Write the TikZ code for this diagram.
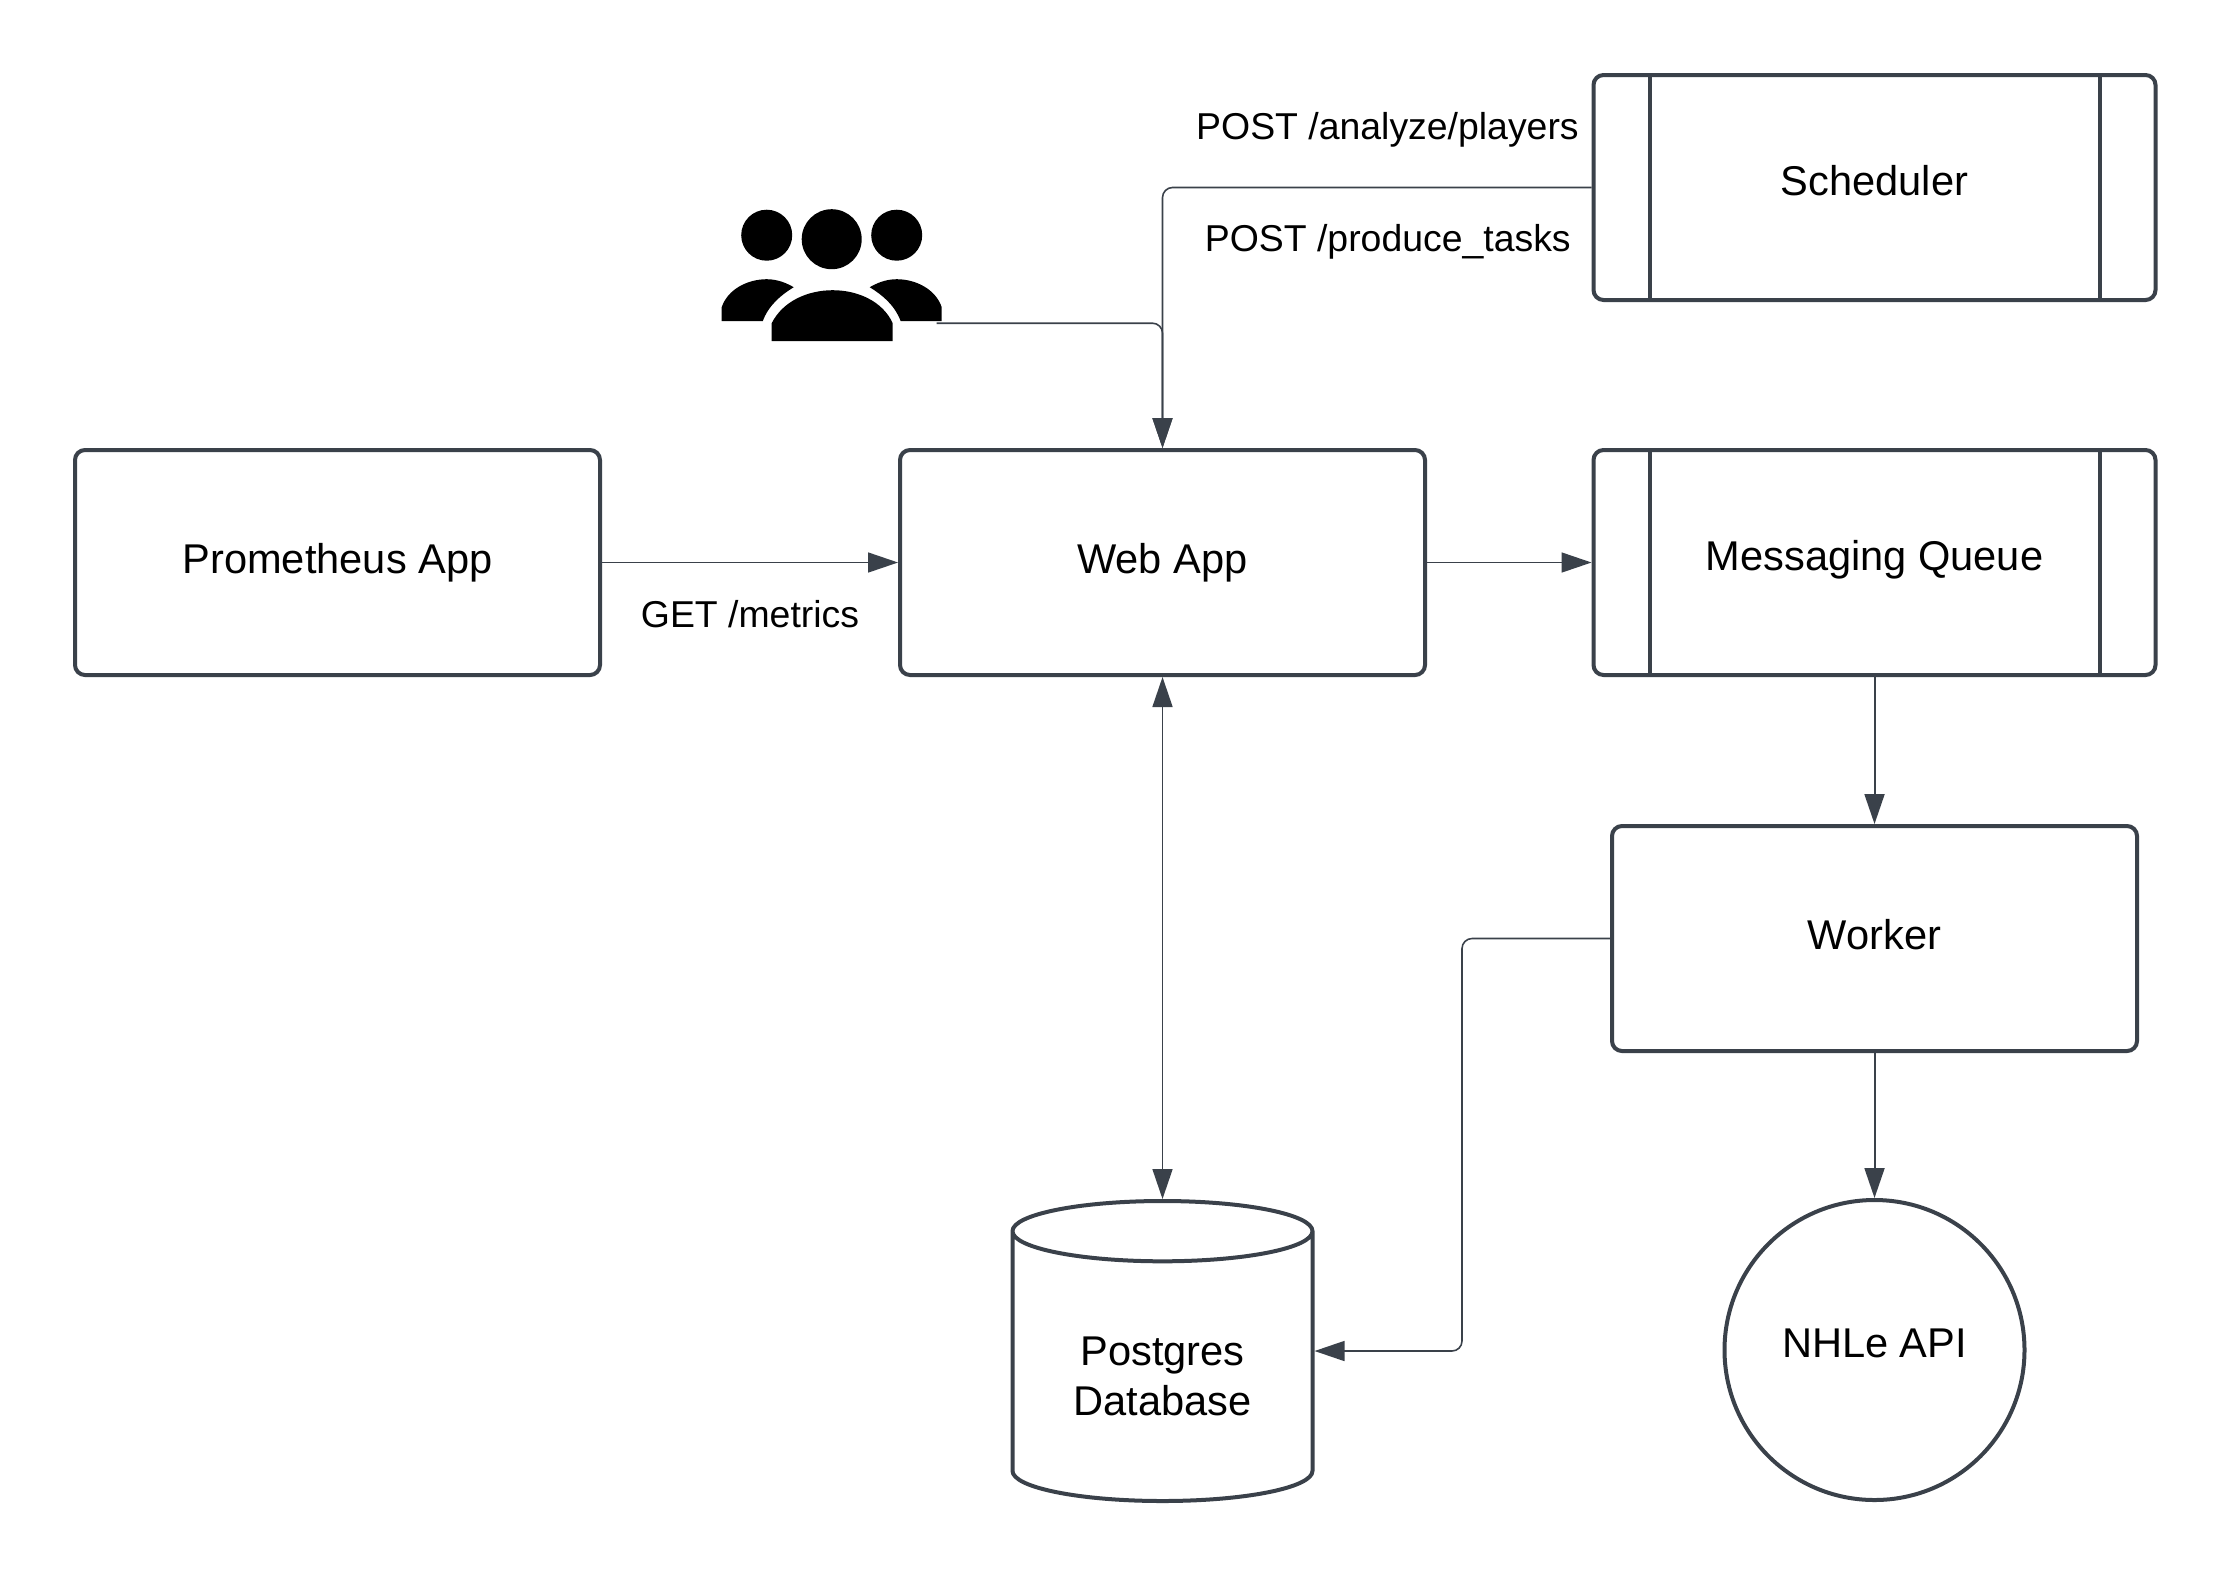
\documentclass[tikz,border=0pt]{standalone}
\usepackage{fontspec}
\setmainfont{Liberation Sans}
\usepackage{tikz}
\usetikzlibrary{arrows.meta}
\usetikzlibrary{positioning}
\usetikzlibrary{shapes.geometric}
\definecolor{linegrey}{HTML}{3A414A}

\begin{document}
\begin{tikzpicture}[->,>={Triangle[length=15pt,width=10pt]},draw=linegrey,line width=0.8pt,
  node distance=73pt,
  main box/.style={rectangle,draw=linegrey,line width=2pt,rounded corners=5pt,text=black,
    minimum width=262.5pt,minimum height=112.5pt,font=\fontsize{20.8}{25}\selectfont},
  side box/.style={main box,minimum width=281pt,path picture={
    \draw[-,line width=2pt,draw=linegrey] ([xshift=28pt]path picture bounding box.north west) -- ([xshift=28pt]path picture bounding box.south west);
    \draw[-,line width=2pt,draw=linegrey] ([xshift=-28pt]path picture bounding box.north east) -- ([xshift=-28pt]path picture bounding box.south east);}},
  db node/.style={cylinder,shape border rotate=90,shape aspect=0.315,draw=linegrey,line width=2pt,text=black,
    minimum width=150pt,minimum height=150pt,align=center,text height=44.2pt,text depth=0pt,font=\fontsize{20.8}{25}\selectfont},
  api node/.style={circle,draw=linegrey,line width=2pt,text=black,minimum size=150pt,font=\fontsize{20.8}{25}\selectfont},
  icon node/.style={minimum width=111pt,minimum height=66pt,inner sep=0pt},
  path label/.style={text=black,inner sep=0pt,font=\fontsize{18.7}{22}\selectfont}]

  \useasboundingbox (0,0) rectangle (1115.5pt,-787.5pt);

  \node[main box] (prometheus) at (168.75pt,-281.25pt) {Prometheus App};
  \node[main box] (web) [right=148pt of prometheus] {Web App};
  \node[side box] (queue) [right=82.25pt of web,text depth=7pt] {Messaging Queue};
  \node[side box] (scheduler) [above of=queue,node distance=187.5pt,text depth=7pt] {Scheduler};
  \node[main box] (worker) [below=73.5pt of queue,text depth=4pt] {Worker};
  \node[db node] (db) [below=261pt of web] {Postgres\\Database};
  \node[api node] (api) [below=72.5pt of worker,text depth=6.8pt] {NHLe API};
  \node[icon node] (users) [above left=53pt and 109pt of web.north] {};

  % people icon
  \begin{scope}[shift={(users.center)},x=0.5pt,y=-0.5pt,fill=black]
    \fill (-66,-40) circle (12.75pt);
    \fill (-1,-36) circle (15pt);
    \fill (64,-40) circle (12.75pt);
    \fill (-61,66) -- (-61,48) .. controls (-50,26) and (-25,15) .. (0,15)
      .. controls (25,15) and (50,26) .. (60,48) -- (60,66) -- cycle;
    \fill (-111,46) -- (-111,32) .. controls (-105,14) and (-85,4) .. (-66,4)
      .. controls (-55,4) and (-46,8) .. (-39,12) .. controls (-52,20) and (-64,30) .. (-70,46) -- cycle;
    \fill (109,46) -- (109,32) .. controls (103,14) and (83,4) .. (64,4)
      .. controls (53,4) and (44,8) .. (37,12) .. controls (50,20) and (62,30) .. (68,46) -- cycle;
  \end{scope}
  \coordinate (usersout) at ([xshift=52pt,yshift=-24pt]users.center);

  \node[path label] (analyze) [left=6pt of scheduler.west,yshift=29pt] {POST /analyze/players};
  \node[path label] (produce) [left=10pt of scheduler.west,yshift=-27pt] {POST /produce\_tasks};

  \draw[rounded corners=5pt] (usersout) -| (web.north);
  \draw[rounded corners=5pt] (scheduler.west) -| (web.north);
  \draw[rounded corners=5pt] (worker.west) -- ++(-74pt,0) |- (db.east |- db.shape center);

  \path
    (prometheus) edge node [path label,below=18.5pt] (metrics) {GET /metrics} (web)
    (web) edge (queue)
    (web) edge[<->] (db)
    (queue) edge[line width=1pt] (worker)
    (worker) edge[line width=1pt] (api);

\end{tikzpicture}
\end{document}
